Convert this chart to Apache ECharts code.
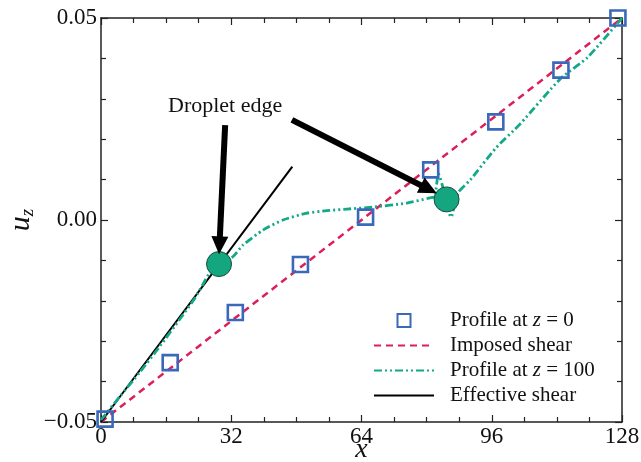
<!DOCTYPE html>
<html>
<head>
<meta charset="utf-8">
<script src="https://cdn.jsdelivr.net/npm/echarts@6/dist/echarts.min.js"></script>
<style>
  html, body { margin: 0; padding: 0; background: #fff; }
  #chart { width: 641px; height: 462px; }
</style>
</head>
<body>
<div id="chart"></div>
<script>
  // ticks
  var xTicks = [0, 32, 64, 96, 128]
  var yTicks = [-0.05, 0.00, 0.05]

  // profile at z = 0 (squares)
  var sqX = [1, 17, 33, 49, 65, 81, 97, 113, 127]
  var sqY = [-0.0493, -0.0353, -0.0229, -0.0110, 0.0007, 0.0124, 0.0243, 0.0371, 0.0500]

  // imposed shear
  var shearX = [0, 128]
  var shearY = [-0.05, 0.05]

  // effective shear
  var effX = [0, 47.0]
  var effY = [-0.05, 0.0132]

  // profile at z = 100
  var profX = [0, 4.7, 9.6, 14.5, 19.4, 23.1, 25.1, 26.8, 29.0, 32.4, 34.9, 39.8, 44.7, 50.6, 55.5, 60.4, 66.8, 75.2, 80.8, 82.0, 82.9, 83.8, 86.0, 87.7, 90.7, 97.0, 103.0, 113.0, 119.4, 128]
  var profY = [-0.0495, -0.0436, -0.0376, -0.0312, -0.0245, -0.0193, -0.0158, -0.0129, -0.0109, -0.0091, -0.0062, -0.0025, 0.0000, 0.0017, 0.0023, 0.0027, 0.0032, 0.0042, 0.0055, 0.0058, 0.0115, 0.0088, 0.0007, 0.0067, 0.0099, 0.0178, 0.0238, 0.0351, 0.0401, 0.0500]

  // droplet edges
  var dropX = [29.0, 84.9]
  var dropY = [-0.0109, 0.0051]

  // arrows: from -> to
  var arrowFromX = [30.5, 46.9]
  var arrowFromY = [0.0235, 0.0248]
  var arrowToX = [29.0, 82.5]
  var arrowToY = [-0.0085, 0.0066]

  var noteText = 'Droplet edge'
  var noteX = 30.5
  var noteY = 0.0282

  var names = ['Profile at z = 0', 'Imposed shear', 'Profile at z = 100', 'Effective shear']

  var serif = 'Liberation Serif'

  function zip(a, b) {
    return a.map(function (v, i) { return [v, b[i]] })
  }

  function fmtY(v) {
    return v.toFixed(2).replace('-', '\u2212')
  }

  var chart = echarts.init(document.getElementById('chart'))

  var axisLine = { onZero: false, lineStyle: { color: '#222', width: 1.5 } }
  var tick = { inside: true, length: 7, lineStyle: { color: '#222', width: 1.2 } }
  var noSym = { color: 'rgba(0,0,0,0)', borderColor: 'rgba(0,0,0,0)', borderWidth: 0 }

  var option = {
    animation: false,
    backgroundColor: '#fff',
    grid: { left: 101, right: 19, top: 18, bottom: 40, outerBoundsMode: 'none', containLabel: false },
    xAxis: [{
      type: 'value', min: 0, max: 128, interval: 32,
      name: 'x', nameLocation: 'middle', nameGap: 14, nameMoveOverlap: false,
      nameTextStyle: { fontFamily: serif, fontStyle: 'italic', fontSize: 28, color: '#111' },
      axisLine: axisLine,
      axisTick: tick,
      minorTick: { show: true, splitNumber: 4, length: 5, lineStyle: { color: '#222', width: 1.2 } },
      splitLine: { show: false },
      axisLabel: { fontFamily: serif, fontSize: 23, color: '#111', margin: 3 }
    }, {
      type: 'value', min: 0, max: 128, interval: 32, position: 'top',
      axisLine: axisLine,
      axisTick: tick,
      minorTick: { show: true, splitNumber: 4, length: 5, lineStyle: { color: '#222', width: 1.2 } },
      splitLine: { show: false },
      axisLabel: { show: false }
    }],
    yAxis: [{
      type: 'value', min: -0.05, max: 0.05, interval: 0.05,
      name: '{u|u}{s|z}', nameLocation: 'middle', nameGap: 64, nameRotate: 90, nameMoveOverlap: false,
      nameTextStyle: {
        rich: {
          u: { fontFamily: serif, fontStyle: 'italic', fontSize: 30, color: '#111' },
          s: { fontFamily: serif, fontStyle: 'italic', fontSize: 19, color: '#111', padding: [12, 0, 0, 0] }
        }
      },
      axisLine: axisLine,
      axisTick: tick,
      minorTick: { show: true, splitNumber: 5, length: 5, lineStyle: { color: '#222', width: 1.2 } },
      splitLine: { show: false },
      axisLabel: { fontFamily: serif, fontSize: 23, color: '#111', margin: 4, formatter: fmtY }
    }, {
      type: 'value', min: -0.05, max: 0.05, interval: 0.05, position: 'right',
      axisLine: axisLine,
      axisTick: tick,
      minorTick: { show: true, splitNumber: 5, length: 5, lineStyle: { color: '#222', width: 1.2 } },
      splitLine: { show: false },
      axisLabel: { show: false }
    }],
    legend: {
      data: [
        { name: names[0], icon: 'path://M0,0H10V10H0Z' },
        { name: names[1], itemStyle: noSym },
        { name: names[2], itemStyle: noSym },
        { name: names[3], itemStyle: noSym }
      ],
      orient: 'vertical',
      left: 368, top: 305,
      itemWidth: 60, itemHeight: 13, itemGap: 4,
      textStyle: {
        fontFamily: serif, fontSize: 21, color: '#111', lineHeight: 20, padding: [0, 0, 0, 11],
        rich: { i: { fontFamily: serif, fontStyle: 'italic', fontSize: 21, color: '#111' } }
      },
      formatter: function (n) { return n.replace(' z ', ' {i|z} ') }
    },
    series: [
      {
        name: names[1], type: 'line', data: zip(shearX, shearY), symbol: 'none', z: 2,
        itemStyle: { color: '#dc1f5b' },
        lineStyle: { color: '#dc1f5b', width: 2.5, type: [7, 5] }
      },
      {
        name: names[3], type: 'line', data: zip(effX, effY), symbol: 'none', z: 2,
        itemStyle: { color: '#000' },
        lineStyle: { color: '#000', width: 2 }
      },
      {
        name: names[2], type: 'line', data: zip(profX, profY), symbol: 'none', smooth: 0.2, z: 3,
        itemStyle: { color: '#12a888' },
        lineStyle: { color: '#12a888', width: 2.8, type: [8, 3, 2, 3, 2, 3] }
      },
      {
        name: names[0], type: 'scatter', data: zip(sqX, sqY), symbol: 'rect', symbolSize: 15,
        clip: true, z: 4,
        itemStyle: { color: 'rgba(255,255,255,0)', borderColor: '#3a68bb', borderWidth: 2.6, opacity: 1 }
      },
      {
        name: 'drop', type: 'scatter', data: zip(dropX, dropY), symbol: 'circle', symbolSize: 25, z: 5,
        itemStyle: { color: '#14a67e', borderColor: '#1d4d40', borderWidth: 1, opacity: 1 }
      },
      {
        name: 'arrows', type: 'custom', z: 6, clip: false,
        data: arrowFromX.map(function (v, i) { return [v, arrowFromY[i], arrowToX[i], arrowToY[i]] }),
        renderItem: function (params, api) {
          var p0 = api.coord([api.value(0), api.value(1)])
          var p1 = api.coord([api.value(2), api.value(3)])
          var dx = p1[0] - p0[0], dy = p1[1] - p0[1]
          var len = Math.sqrt(dx * dx + dy * dy)
          var ux = dx / len, uy = dy / len
          var hl = 18, hw = 8.5
          var bx = p1[0] - ux * hl, by = p1[1] - uy * hl
          return {
            type: 'group',
            children: [{
              type: 'line',
              shape: { x1: p0[0], y1: p0[1], x2: bx + ux * 2, y2: by + uy * 2 },
              style: { stroke: '#000', lineWidth: 6 }
            }, {
              type: 'polygon',
              shape: { points: [[p1[0], p1[1]], [bx - uy * hw, by + ux * hw], [bx + uy * hw, by - ux * hw]] },
              style: { fill: '#000' }
            }]
          }
        }
      },
      {
        name: 'note', type: 'custom', z: 6, clip: false,
        data: [[noteX, noteY]],
        renderItem: function (params, api) {
          var p = api.coord([api.value(0), api.value(1)])
          return {
            type: 'text',
            x: p[0], y: p[1],
            style: { text: noteText, fontFamily: serif, fontSize: 22, fill: '#111', align: 'center', verticalAlign: 'middle' }
          }
        }
      }
    ]
  }

  chart.setOption(option)
</script>
</body>
</html>
